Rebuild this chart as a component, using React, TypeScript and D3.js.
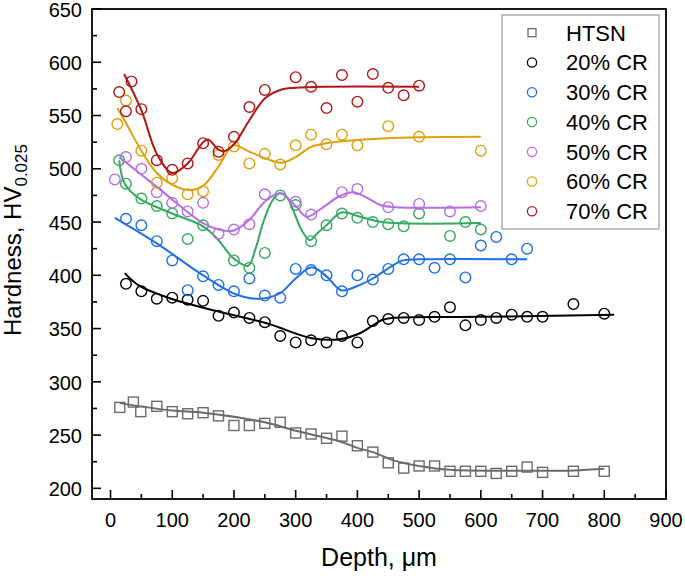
import React from "react";
import * as d3 from "d3";

// ---- data ----
const htsnX = [15, 37, 49, 75, 100, 125, 150, 175, 200, 225, 250, 275, 300, 325, 350, 375, 400, 425, 450, 475, 500, 525, 550, 575, 600, 625, 650, 675, 700, 750, 800];
const htsnY = [276, 281, 272, 277, 272, 270, 271, 268, 259, 259, 261, 262, 252, 251, 247, 249, 240, 234, 224, 219, 221, 221, 216, 216, 216, 214, 216, 220, 215, 216, 216];
const htsnFitX = [15, 100, 150, 250, 300, 372, 400, 425, 460, 500, 550, 650, 750, 800];
const htsnFitY = [280, 273, 271, 262, 254, 244, 238, 234, 226, 221, 217.4, 216.5, 216.7, 218.3];

const cr20X = [25, 50, 75, 100, 125, 150, 175, 200, 225, 250, 275, 300, 325, 350, 375, 400, 425, 450, 475, 500, 525, 550, 575, 600, 625, 650, 675, 700, 750, 800];
const cr20Y = [392, 385, 378, 379, 377, 376, 362, 365, 360, 356, 343, 337, 339, 337, 343, 337, 357, 359, 360, 358, 361, 370, 353, 358, 360, 363, 361, 361, 373, 364];
const cr20FitX = [23, 47, 101, 175, 253, 326, 372, 404, 425, 440, 455, 600, 816];
const cr20FitY = [402, 390, 377.5, 366, 355, 341, 340, 345.6, 353, 358, 360, 361, 363];

const cr30X = [25, 50, 75, 100, 125, 150, 175, 200, 225, 250, 275, 300, 325, 350, 375, 400, 425, 450, 475, 500, 525, 550, 575, 600, 625, 650, 675];
const cr30Y = [453, 447, 432, 414, 386, 399, 391, 385, 397, 381, 379, 406, 405, 400, 385, 400, 396, 406, 415, 415, 407, 415, 398, 428, 436, 415, 425];
const cr30FitX = [7, 75, 150, 204, 242, 274, 300, 326, 350, 374, 400, 425, 450, 474, 500, 675];
const cr30FitY = [454, 430, 400, 382, 378, 383, 397, 407.5, 399, 386, 390, 397, 406.6, 414, 415, 415];

const cr40X = [14, 25, 50, 75, 100, 125, 150, 200, 225, 250, 275, 300, 325, 350, 375, 400, 425, 450, 475, 500, 550, 575, 600];
const cr40Y = [508, 486, 472, 465, 458, 434, 447, 414, 407, 421, 475, 466, 432, 447, 458, 454, 450, 448, 446, 458, 437, 450, 443];
const cr40FitX = [14, 23, 47, 100, 150, 172, 199, 223, 235, 247, 262, 274, 285, 296, 310, 323, 336, 350, 374, 404, 440, 600];
const cr40FitY = [508, 486, 472, 458, 446, 435, 416, 409, 425, 449, 470, 477, 474, 461, 442, 433, 440, 447, 459, 455, 450, 449];

const cr50X = [7, 25, 50, 75, 100, 125, 150, 175, 200, 225, 250, 300, 325, 375, 400, 450, 500, 550, 600];
const cr50Y = [490, 511, 500, 478, 468, 460, 468, 439, 443, 448, 476, 469, 457, 478, 481, 464, 467, 460, 465];
const cr50FitX = [14, 75, 150, 175, 200, 225, 250, 275, 300, 318, 340, 370, 393, 415, 437, 460, 600];
const cr50FitY = [511, 483, 449, 443, 442, 452, 469, 477, 465, 455, 462, 474, 478, 473, 466, 464, 464];

const cr60X = [11, 25, 50, 75, 100, 125, 150, 175, 200, 225, 250, 275, 300, 325, 350, 375, 400, 450, 500, 600];
const cr60Y = [542, 564, 517, 487, 491, 476, 479, 513, 521, 505, 514, 504, 522, 532, 523, 532, 522, 540, 530, 517];
const cr60FitX = [11, 25, 50, 75, 100, 128, 150, 175, 199, 225, 250, 277, 300, 325, 350, 400, 500, 600];
const cr60FitY = [557, 543, 517, 496, 485, 480, 484, 502, 522, 516, 510, 505.6, 511, 520.6, 524, 527, 529.5, 530];

const cr70X = [14, 25, 34, 50, 75, 100, 125, 150, 175, 200, 225, 250, 300, 325, 350, 375, 400, 425, 450, 475, 500];
const cr70Y = [572, 554, 582, 556, 508, 499, 505, 524, 516, 530, 558, 574, 586, 577, 557, 588, 563, 589, 576, 569, 578];
const cr70FitX = [22, 50, 75, 100, 125, 150, 158, 175, 184, 200, 225, 250, 275, 300, 350, 500];
const cr70FitY = [589, 555, 514, 496, 505, 525, 527.5, 518, 516.5, 523, 545.6, 566, 574, 576, 577, 577];

const seriesNames = ["HTSN", "20% CR", "30% CR", "40% CR", "50% CR", "60% CR", "70% CR"];
const seriesColors = ["#6b6b6b", "#000000", "#1f6fe6", "#33aa5f", "#b56ee6", "#e0a00c", "#b01818"];

const xTicks = [0, 100, 200, 300, 400, 500, 600, 700, 800, 900];
const xMinor = [50, 150, 250, 350, 450, 550, 650, 750, 850];
const yTicks = [200, 250, 300, 350, 400, 450, 500, 550, 600, 650];
const yMinor = [225, 275, 325, 375, 425, 475, 525, 575, 625];

const W = 685;
const H = 576;
const FONT = "Arial, 'Liberation Sans', sans-serif";

const x = d3.scaleLinear().domain([-30, 900]).range([92, 666]);
const y = d3.scaleLinear().domain([190, 650]).range([499, 9]);

const allSeries = [
  { xs: htsnX, ys: htsnY, fx: htsnFitX, fy: htsnFitY, square: true },
  { xs: cr20X, ys: cr20Y, fx: cr20FitX, fy: cr20FitY, square: false },
  { xs: cr30X, ys: cr30Y, fx: cr30FitX, fy: cr30FitY, square: false },
  { xs: cr40X, ys: cr40Y, fx: cr40FitX, fy: cr40FitY, square: false },
  { xs: cr50X, ys: cr50Y, fx: cr50FitX, fy: cr50FitY, square: false },
  { xs: cr60X, ys: cr60Y, fx: cr60FitX, fy: cr60FitY, square: false },
  { xs: cr70X, ys: cr70Y, fx: cr70FitX, fy: cr70FitY, square: false },
];

const line = d3
  .line<[number, number]>()
  .x((d) => x(d[0]))
  .y((d) => y(d[1]))
  .curve(d3.curveCatmullRom.alpha(0.5));

export default function App() {
  const order = [0, 1, 2, 3, 4, 5, 6];
  return (
    <div style={{ position: "absolute", left: 0, top: 0 }}>
      <svg width={W} height={H} style={{ display: "block", background: "#fff" }} fontFamily={FONT}>
        <rect x={0} y={0} width={W} height={H} fill="#fff" />
        {/* series */}
        {order.map((i) => {
          const s = allSeries[i];
          const c = seriesColors[i];
          const fit = s.fx.map((v, k) => [v, s.fy[k]] as [number, number]);
          return (
            <g key={i}>
              {s.xs.map((xv, k) =>
                s.square ? (
                  <rect
                    key={k}
                    x={x(xv) - 5}
                    y={y(s.ys[k]) - 5}
                    width={10}
                    height={10}
                    fill="none"
                    stroke={c}
                    strokeWidth={1.4}
                  />
                ) : (
                  <circle key={k} cx={x(xv)} cy={y(s.ys[k])} r={5.3} fill="none" stroke={c} strokeWidth={1.4} />
                )
              )}
              <path d={line(fit) || ""} fill="none" stroke={c} strokeWidth={2} />
            </g>
          );
        })}

        {/* frame */}
        <rect x={92} y={9} width={574} height={490} fill="none" stroke="#000" strokeWidth={1.8} />

        {/* x ticks */}
        {xTicks.map((t) => (
          <g key={"xt" + t}>
            <line x1={x(t)} x2={x(t)} y1={499} y2={490} stroke="#000" strokeWidth={1.6} />
            <text x={x(t)} y={527} textAnchor="middle" fontSize={20} fill="#000">
              {t}
            </text>
          </g>
        ))}
        {xMinor.map((t) => (
          <line key={"xm" + t} x1={x(t)} x2={x(t)} y1={499} y2={494} stroke="#000" strokeWidth={1.6} />
        ))}
        {/* y ticks */}
        {yTicks.map((t) => (
          <g key={"yt" + t}>
            <line x1={92} x2={101} y1={y(t)} y2={y(t)} stroke="#000" strokeWidth={1.6} />
            <text x={82} y={y(t) + 7.7} textAnchor="end" fontSize={20} fill="#000">
              {t}
            </text>
          </g>
        ))}
        {yMinor.map((t) => (
          <line key={"ym" + t} x1={92} x2={97} y1={y(t)} y2={y(t)} stroke="#000" strokeWidth={1.6} />
        ))}

        {/* axis titles */}
        <text x={379} y={566} textAnchor="middle" fontSize={25} fill="#000">
          Depth, μm
        </text>
        <text transform="translate(21,240) rotate(-90)" textAnchor="middle" fontSize={24} fill="#000">
          Hardness, HV
          <tspan dy={6} fontSize={17}>
            0.025
          </tspan>
        </text>

        {/* legend */}
        <rect x={502} y={15} width={157} height={214} fill="#fff" stroke="#9a9a9a" strokeWidth={1.2} />
        {seriesNames.map((n, i) => {
          const ly = 32.7 + i * 29.75;
          const c = seriesColors[i];
          return (
            <g key={"lg" + i}>
              {i === 0 ? (
                <rect x={528} y={ly - 4} width={8} height={8} fill="none" stroke={c} strokeWidth={1.3} />
              ) : (
                <circle cx={532} cy={ly} r={4.6} fill="none" stroke={c} strokeWidth={1.3} />
              )}
              <text x={566} y={ly + 8} fontSize={22} fill="#000">
                {n}
              </text>
            </g>
          );
        })}
      </svg>
    </div>
  );
}
